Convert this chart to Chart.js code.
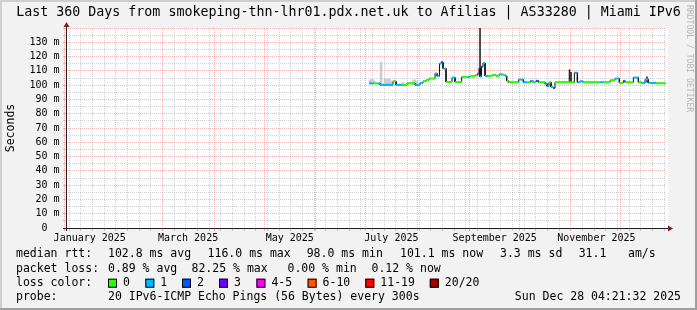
<!DOCTYPE html>
<html>
<head>
<meta charset="utf-8">
<script src="https://cdn.jsdelivr.net/npm/chart.js@4.4.1/dist/chart.umd.min.js"></script>
<style>
html, body { margin: 0; padding: 0; background: #f2f2f2; }
canvas { display: block; }
</style>
</head>
<body>
<canvas id="grafico" width="697" height="310"></canvas>
<script>
// x values are day-of-year 2025 (0 = Jan 1 00:00)
const rangeStart = 1.1816   // Jan 2 04:21:32
const rangeEnd = 361.1816   // Dec 28 04:21:32

const monthStarts = [0, 31, 59, 90, 120, 151, 181, 212, 243, 273, 304, 334]
const xLabelDays = [0, 59, 120, 181, 243, 304]
const xLabelText = ['January 2025', 'March 2025', 'May 2025', 'July 2025', 'September 2025', 'November 2025']

// median rtt, one value per step (step lasts until the next one starts)
const stepDays = [
  183.0, 185.4, 188.4, 189.6, 193.2, 197.4, 199.2, 202.8, 205.8, 210.6,
  213.6, 215.4, 217.2, 219.0, 222.6, 223.8, 225.3, 226.2, 227.4, 229.2,
  232.8, 234.6, 238.6, 242.4, 243.6, 246.6, 248.1, 249.0, 249.6, 250.5,
  251.4, 252.6, 254.4, 256.8, 259.2, 261.0, 263.4, 264.6, 265.6, 266.6,
  272.8, 275.6, 277.8, 279.9, 281.4, 283.2, 284.7, 288.6, 289.8, 291.0,
  292.2, 293.4, 294.6, 306.2, 308.0, 309.6, 311.4, 321.6, 323.4, 327.6,
  330.6, 333.2, 335.6, 336.6, 341.6, 344.6, 346.6, 348.6, 350.6, 355.2
]
const stepMedian = [
  101.2, 101.2, 101.2, 100.2, 100.2, 102.7, 100.2, 100.2, 101.3, 100.2,
  101.5, 102.7, 103.5, 104.6, 108.1, 106.3, 115.0, 116.0, 111.6, 102.2,
  105.3, 102.2, 105.8, 105.8, 106.2, 106.9, 108.0, 112.0, 106.0, 113.0,
  115.5, 106.4, 106.4, 107.2, 106.4, 107.5, 107.2, 106.4, 103.0, 102.0,
  103.9, 102.0, 102.0, 103.0, 102.0, 103.0, 102.0, 101.1, 99.2, 102.0,
  98.7, 98.0, 102.0, 108.7, 102.0, 102.7, 102.0, 102.0, 102.0, 103.4,
  104.6, 101.6, 103.0, 102.0, 105.3, 102.0, 101.5, 104.0, 101.6, 101.3
]
const stepLoss = [
  1, 0, 1, 1, 1, 0, 1, 0, 0, 1,
  1, 0, 0, 0, 1, 1, 1, 2, 1, 0,
  1, 0, 0, 1, 0, 0, 5, 15, 1, 2,
  1, 1, 0, 0, 0, 1, 0, 1, 0, 0,
  1, 1, 0, 1, 0, 2, 0, 1, 1, 0,
  1, 2, 0, 1, 1, 1, 0, 1, 0, 0,
  1, 0, 2, 0, 1, 0, 1, 1, 1, 0
]

// smoke (spread of the 20 pings)
const lightSmokeDays = [183.6, 184.8, 186.0, 190.2, 192.6, 193.8, 195.0, 196.2, 203.4, 209.4, 210.6, 211.8]
const lightSmokeLow  = [101.5, 101.6, 101.5, 100.2, 100.3, 100.3, 100.3, 100.3, 100.3, 100.3, 100.3, 100.3]
const lightSmokeHigh = [103.5, 104.2, 103.0, 116.2, 104.5, 104.0, 104.6, 103.0, 101.8, 103.2, 103.8, 102.8]
const darkSmokeDays = [249.6, 303.3, 304.2, 349.8]
const darkSmokeLow  = [106.0, 102.0, 102.0, 102.0]
const darkSmokeHigh = [139.8, 110.8, 109.0, 105.8]

const lossLabels = ['0', '1', '2', '3', '4-5', '6-10', '11-19', '20/20']
const lossLimits = [0, 1, 2, 3, 5, 10, 19, 20]
const lossColors = ['#26ff00', '#00b8ff', '#0059ff', '#6a00ff', '#ff00ff', '#ff5500', '#ff0000', '#a10000']

const chartTitle = 'Last 360 Days from smokeping-thn-lhr01.pdx.net.uk to Afilias | AS33280 | Miami IPv6'
const rttStats = ['102.8 ms avg', '116.0 ms max', '98.0 ms min', '101.1 ms now', '3.3 ms sd', '31.1', 'am/s']
const lossStats = ['0.89 % avg', '82.25 % max', '0.00 % min', '0.12 % now']
const probeText = '20 IPv6-ICMP Echo Pings (56 Bytes) every 300s'
const stampText = 'Sun Dec 28 04:21:32 2025'

const MONO = '"DejaVu Sans Mono", monospace'
const GRID = 'rgba(143,143,143,0.4)'
const MGRID = 'rgba(222,79,79,0.4)'

function lossIndex(n) {
  for (let i = 0; i < lossLimits.length; i++) if (n <= lossLimits[i]) return i
  return lossLimits.length - 1
}

// x ticks: month starts (major) and weeks (minor)
const weekStarts = []
for (let d = 3; d < rangeEnd; d += 7) weekStarts.push(d)
const xTickValues = Array.from(new Set(monthStarts.concat(weekStarts))).sort((a, b) => a - b)
const yTickValues = []
for (let v = 0; v <= 140; v += 5) yTickValues.push(v)

// median as separate horizontal pieces, coloured by loss
const medianPts = []
const medianLoss = []
const outlinePts = []
stepDays.forEach((d, i) => {
  const end = i < stepDays.length - 1 ? stepDays[i + 1] : rangeEnd
  medianPts.push({x: d, y: stepMedian[i]}, {x: end, y: stepMedian[i]}, {x: end, y: null})
  medianLoss.push(stepLoss[i], stepLoss[i], stepLoss[i])
  outlinePts.push({x: d, y: stepMedian[i]}, {x: end, y: stepMedian[i]})
})

const rrdFrame = {
  id: 'rrdFrame',
  beforeDraw(chart) {
    const c = chart.ctx, a = chart.chartArea
    c.save()
    c.fillStyle = '#f2f2f2'
    c.fillRect(0, 0, 697, 310)
    c.fillStyle = '#cfcfcf'
    c.fillRect(0, 0, 697, 2)
    c.fillRect(0, 0, 2, 310)
    c.fillStyle = '#9e9e9e'
    c.fillRect(0, 308, 697, 2)
    c.fillRect(695, 0, 2, 310)
    c.fillStyle = '#ffffff'
    c.fillRect(a.left, a.top, a.right - a.left + 2, a.bottom - a.top)
    c.restore()
  },
  afterDraw(chart) {
    const c = chart.ctx, a = chart.chartArea
    c.save()
    // axes + arrows
    c.strokeStyle = '#1f1f1f'
    c.lineWidth = 1
    c.beginPath()
    c.moveTo(a.left - 3, a.bottom + 0.5)
    c.lineTo(a.right + 4, a.bottom + 0.5)
    c.moveTo(a.left + 0.5, a.bottom + 3)
    c.lineTo(a.left + 0.5, a.top - 3)
    c.stroke()
    c.fillStyle = '#801f1f'
    c.beginPath()
    c.moveTo(a.right + 2, a.bottom - 2.5)
    c.lineTo(a.right + 7, a.bottom + 0.5)
    c.lineTo(a.right + 2, a.bottom + 3.5)
    c.fill()
    c.beginPath()
    c.moveTo(a.left - 2.5, a.top - 1)
    c.lineTo(a.left + 0.5, a.top - 6)
    c.lineTo(a.left + 3.5, a.top - 1)
    c.fill()

    // title
    c.fillStyle = '#000'
    c.textBaseline = 'middle'
    c.textAlign = 'center'
    c.font = '13.3px ' + MONO
    c.fillText(chartTitle, 348.5, 12.5)

    // y title
    c.font = '11.5px ' + MONO
    c.save()
    c.translate(10.8, 128)
    c.rotate(-Math.PI / 2)
    c.fillText('Seconds', 0, 0)
    c.restore()

    // legend rows
    c.textAlign = 'left'
    const r1 = 254.5, r2 = 268.8, r3 = 283.2, r4 = 297.5
    c.fillText('median rtt:', 16, r1)
    const rttX = [108, 207.6, 306.7, 400, 500, 578.7, 628]
    rttStats.forEach((t, i) => c.fillText(t, rttX[i], r1))
    c.fillText('packet loss:', 16, r2)
    const lossX = [108, 191.5, 287.5, 371.5]
    lossStats.forEach((t, i) => c.fillText(t, lossX[i], r2))
    c.fillText('loss color:', 16, r3)
    const swX = [108, 145.3, 182, 219, 256.4, 307.6, 365.3, 429.8]
    lossLabels.forEach((t, i) => {
      c.fillStyle = lossColors[i]
      c.fillRect(swX[i], r3 - 4.5, 9, 9)
      c.strokeStyle = '#000'
      c.strokeRect(swX[i] + 0.5, r3 - 4, 8, 8)
      c.fillStyle = '#000'
      c.fillText(t, swX[i] + 15, r3)
    })
    c.fillText('probe:', 16, r4)
    c.fillText(probeText, 108, r4)
    c.textAlign = 'right'
    c.fillText(stampText, 681, r4)

    // watermark
    c.fillStyle = '#b5b5b5'
    c.font = '8.1px ' + MONO
    c.textAlign = 'left'
    c.translate(689.5, 5)
    c.rotate(Math.PI / 2)
    c.fillText('RRDTOOL / TOBI OETIKER', 0, 0)
    c.restore()
  }
}

const ctx = document.getElementById('grafico')
new Chart(ctx, {
  type: 'line',
  data: {
    datasets: [{
      data: medianPts,
      borderWidth: 2,
      borderColor: lossColors[0],
      pointRadius: 0,
      spanGaps: false,
      segment: {
        borderColor: s => lossColors[lossIndex(medianLoss[s.p0DataIndex])]
      },
      order: 0
    }, {
      data: outlinePts,
      borderWidth: 1,
      borderColor: '#111111',
      pointRadius: 0,
      order: 1
    }, {
      type: 'bar',
      data: darkSmokeDays.map((d, i) => ({x: d, y: [darkSmokeLow[i], darkSmokeHigh[i]]})),
      backgroundColor: '#2a2a2a',
      barThickness: 1,
      grouped: false,
      order: 2
    }, {
      type: 'bar',
      data: lightSmokeDays.map((d, i) => ({x: d, y: [lightSmokeLow[i], lightSmokeHigh[i]]})),
      backgroundColor: '#cccccc',
      barThickness: 2,
      grouped: false,
      order: 3
    }]
  },
  options: {
    responsive: false,
    animation: false,
    events: [],
    devicePixelRatio: 1,
    layout: { padding: { left: 0, right: 31, top: 28, bottom: 0 } },
    plugins: { legend: { display: false }, tooltip: { enabled: false } },
    scales: {
      x: {
        type: 'linear',
        min: rangeStart,
        max: rangeEnd,
        offset: false,
        afterBuildTicks: s => { s.ticks = xTickValues.map(v => ({value: v})) },
        afterFit: s => { s.height = 82 },
        grid: {
          offset: false,
          color: g => monthStarts.includes(g.tick && g.tick.value) ? MGRID : GRID,
          tickColor: g => monthStarts.includes(g.tick && g.tick.value) ? MGRID : GRID,
          tickLength: 3
        },
        border: { display: false, dash: [1, 1] },
        ticks: {
          autoSkip: false,
          maxRotation: 0,
          minRotation: 0,
          labelOffset: 25.7,
          padding: 1,
          color: '#000',
          font: { family: MONO, size: 10 },
          callback: v => {
            const k = xLabelDays.indexOf(v)
            return k >= 0 ? xLabelText[k] : ''
          }
        }
      },
      y: {
        min: 0,
        max: 140,
        afterBuildTicks: s => { s.ticks = yTickValues.map(v => ({value: v})) },
        afterFit: s => { s.width = 66 },
        grid: {
          color: g => (g.tick && g.tick.value % 10 === 0) ? MGRID : GRID,
          tickColor: g => (g.tick && g.tick.value % 10 === 0) ? MGRID : GRID,
          tickLength: 3
        },
        border: { display: false, dash: [1, 1] },
        ticks: {
          autoSkip: false,
          padding: 3.5,
          color: '#000',
          font: { family: MONO, size: 10 },
          callback: v => (v % 10 === 0 && v < 140) ? (v === 0 ? '0  ' : v + ' m') : ''
        }
      }
    }
  },
  plugins: [rrdFrame]
})
</script>
</body>
</html>
